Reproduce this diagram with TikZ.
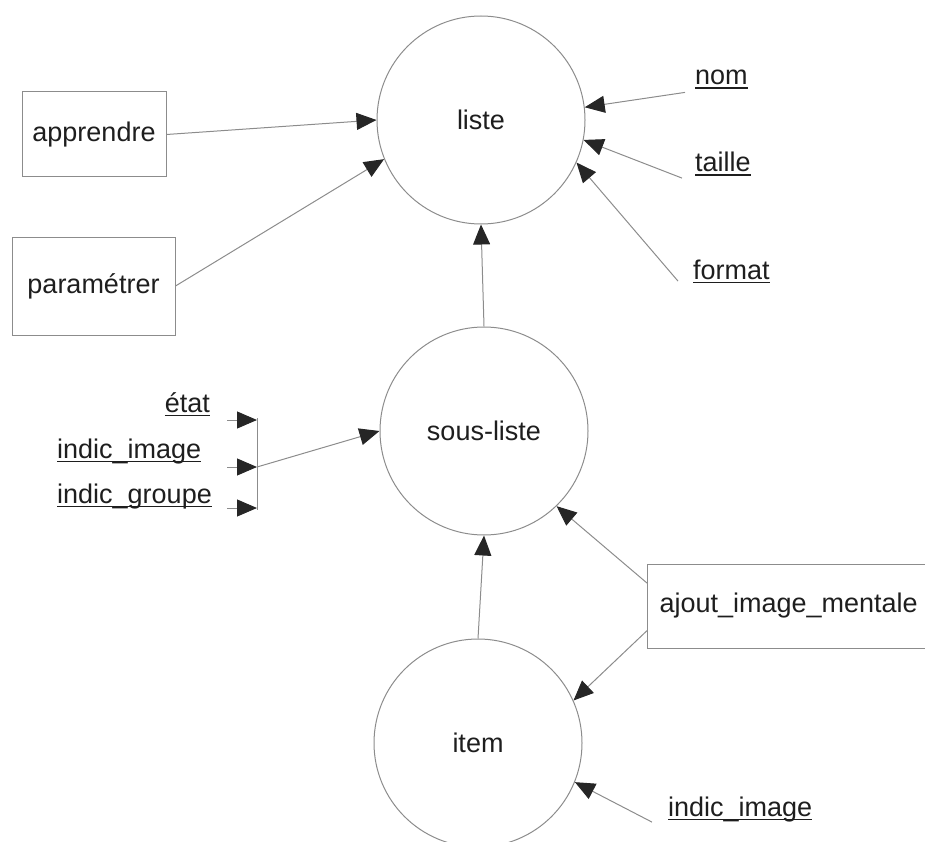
\documentclass[tikz,border=0pt]{standalone}
\usepackage{fontspec}
\setmainfont{Liberation Sans}
\usetikzlibrary{arrows.meta,calc}
\definecolor{linec}{HTML}{8C8C8C}
\definecolor{tipc}{HTML}{262626}
\definecolor{textc}{HTML}{1E1E1E}
\newcommand\myul[1]{\setbox0\hbox{#1}\rlap{\rule[-4.2pt]{\wd0}{1.7pt}}\smash{\box0}}
\begin{document}
\begin{tikzpicture}[x=1pt,y=-1pt,
  font=\fontsize{27}{32}\selectfont, text=textc,
  proc/.style={circle, draw=linec, line width=1pt, minimum size=208pt, inner sep=0pt},
  ext/.style={rectangle, draw=linec, line width=1pt, inner sep=0pt},
  lab/.style={inner sep=0pt, anchor=base west},
  flow/.style={draw=linec, line width=1pt, -{Triangle[length=20pt,width=17pt,color=tipc]}},
  link/.style={draw=linec, line width=1pt}]
\useasboundingbox (0,0) rectangle (925,842);
\clip (0,0) rectangle (925,842);
% processes
\node[proc] (liste) at (481,120) {liste};
\node[proc] (sousliste) at (484,431) {sous-liste};
\node[proc] (item) at (478,743) {item};
% external boxes
\node[ext, minimum width=144pt, minimum height=85pt] (apprendre) at (94,134.5) {apprendre};
\node[ext, minimum width=163pt, minimum height=98pt] (parametrer) at (93.5,286) {paramétrer};
\node[ext, anchor=west, minimum height=84pt, text width=266pt, inner xsep=12pt, align=left] (ajout) at (647,606) {ajout\_image\_mentale};
% data labels
\node[lab] (nom) at (695,85) {\myul{nom}};
\node[lab] (taille) at (695,172) {\myul{taille}};
\node[lab] (format) at (693,279) {\myul{format}};
\node[lab] (indicimgb) at (668,816) {\myul{indic\_image}};
\node[lab, anchor=base east] (etat) at (210,412) {\myul{état}};
\node[lab] (indicimg) at (57,458) {\myul{indic\_image}};
\node[lab] (indicgrp) at (57,503) {\myul{indic\_groupe}};
% bracket coordinates
\coordinate (s1) at (227,420);
\coordinate (s2) at (227,467);
\coordinate (s3) at (227,508);
\coordinate (b1) at (257,420);
\coordinate (b2) at (257,467);
\coordinate (b3) at (257,508);
\coordinate (btop) at (257,418);
\coordinate (bbot) at (257,510);
% connectors
\draw[flow] (apprendre.east) -- (liste.180);
\draw[flow] (parametrer.east) -- (liste.202);
\draw[flow] ($(nom.south west)+(-10,3)$) -- (liste.7);
\draw[flow] ($(taille.west)+(-13,4)$) -- (liste.349);
\draw[flow] ($(format.west)+(-15,0)$) -- (liste.336);
\draw[flow] (sousliste.north) -- (liste.south);
\draw[flow] (item.north) -- (sousliste.south);
\draw[flow] ($(ajout.north west)!0.23!(ajout.south west)$) -- (sousliste.314);
\draw[flow] ($(ajout.north west)!0.79!(ajout.south west)$) -- (item.24);
\draw[flow] ($(indicimgb.west)+(-16,4)$) -- (item.338);
\draw[flow] (s1) -- (b1);
\draw[flow] (s2) -- (b2);
\draw[flow] (s3) -- (b3);
\draw[link] (btop) -- (bbot);
\draw[flow] (b2) -- (sousliste.180);
\end{tikzpicture}
\end{document}
